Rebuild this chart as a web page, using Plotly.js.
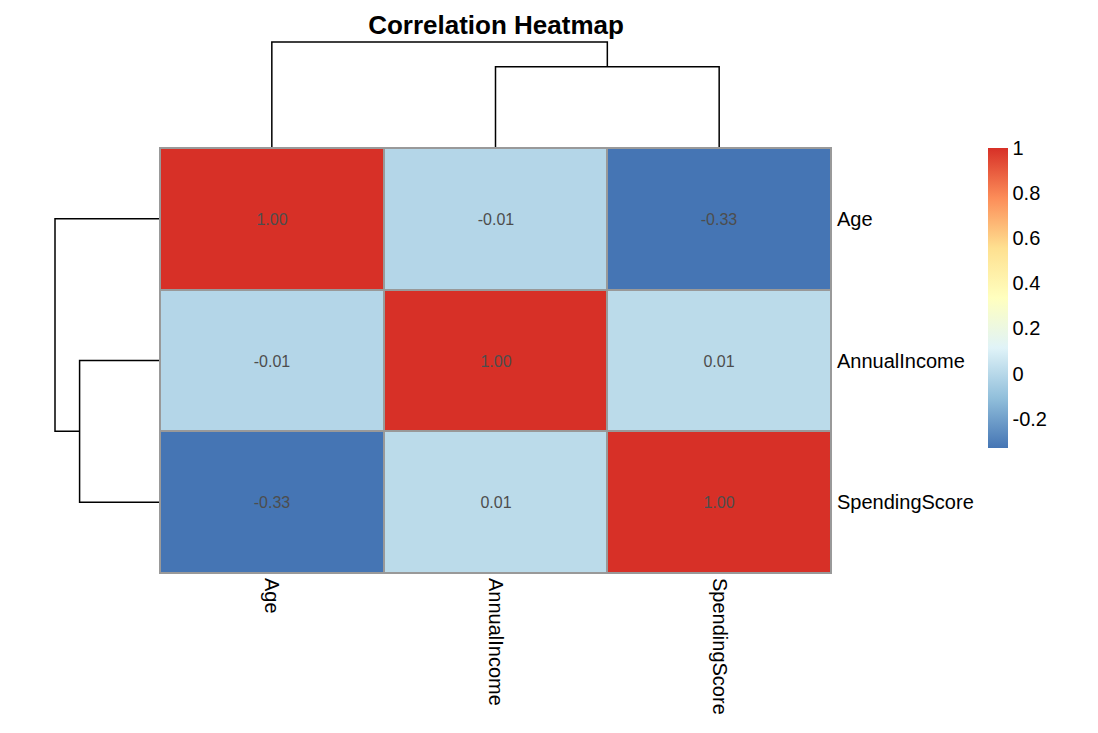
<!DOCTYPE html>
<html>
<head>
<meta charset="utf-8">
<script src="https://cdn.plot.ly/plotly-3.0.1.min.js"></script>
<style>html,body{margin:0;padding:0;background:#fff;}#chart{width:1098px;height:733px;}</style>
</head>
<body>
<div id="chart"></div>
<script>
// ---- data ----
const variables = ["Age", "AnnualIncome", "SpendingScore"];
const rowAge = [1.00, -0.01, -0.33];
const rowAnnualIncome = [-0.01, 1.00, 0.01];
const rowSpendingScore = [-0.33, 0.01, 1.00];
const colorbarTicks = [-0.2, 0, 0.2, 0.4, 0.6, 0.8, 1];
const colorbarTickText = ["-0.2", "0", "0.2", "0.4", "0.6", "0.8", "1"];
const paletteColors = ["#4575B4", "#91BFDB", "#E0F3F8", "#FFFFBF", "#FEE090", "#FC8D59", "#D73027"];

const matrix = [rowAge, rowAnnualIncome, rowSpendingScore];
const n = variables.length;

// ---- hierarchical clustering (euclidean, complete linkage) ----
function dist(a, b) {
  let s = 0;
  for (let k = 0; k < a.length; k++) s += (a[k] - b[k]) * (a[k] - b[k]);
  return Math.sqrt(s);
}
function hclust(vectors) {
  let clusters = vectors.map((v, i) => ({ leaves: [i], height: 0, children: null }));
  while (clusters.length > 1) {
    let best = null;
    for (let i = 0; i < clusters.length; i++) {
      for (let j = i + 1; j < clusters.length; j++) {
        let d = 0;
        clusters[i].leaves.forEach(a => clusters[j].leaves.forEach(b => {
          d = Math.max(d, dist(vectors[a], vectors[b]));
        }));
        if (!best || d < best.d) best = { i, j, d };
      }
    }
    const A = clusters[best.i], B = clusters[best.j];
    const first = Math.min(...A.leaves) <= Math.min(...B.leaves) ? A : B;
    const second = first === A ? B : A;
    const node = { leaves: first.leaves.concat(second.leaves), height: best.d, children: [first, second] };
    clusters = clusters.filter((c, k) => k !== best.i && k !== best.j);
    clusters.push(node);
  }
  return clusters[0];
}
const tree = hclust(matrix);
const order = tree.leaves;
const leafPos = {};
order.forEach((leaf, p) => { leafPos[leaf] = p; });

const segPos = [], segH = [];
function walk(node) {
  if (!node.children) return { pos: leafPos[node.leaves[0]], h: 0 };
  const a = walk(node.children[0]);
  const b = walk(node.children[1]);
  segPos.push(a.pos, a.pos, b.pos, b.pos, null);
  segH.push(a.h, node.height, node.height, b.h, null);
  return { pos: (a.pos + b.pos) / 2, h: node.height };
}
walk(tree);
const maxH = tree.height;

const orderedNames = order.map(i => variables[i]);
const z = order.map(r => order.map(c => matrix[r][c]));
const idx = order.map((_, p) => p);

const zmin = Math.min(...z.flat());
const zmax = Math.max(...z.flat());
const colorscale = paletteColors.map((c, i) => [i / (paletteColors.length - 1), c]);

const font = "Liberation Sans, Arial, Helvetica, sans-serif";

const traces = [
  {
    type: "heatmap",
    x: idx, y: idx, z: z,
    xaxis: "x", yaxis: "y",
    zmin: zmin, zmax: zmax,
    colorscale: colorscale,
    xgap: 2, ygap: 2,
    texttemplate: "%{z:.2f}",
    textfont: { family: font, size: 16, color: "#4D4D4D" },
    hoverinfo: "skip",
    colorbar: {
      x: 988 / 1098, xanchor: "left", xref: "paper",
      y: 1 - 298 / 733, yanchor: "middle", yref: "paper",
      len: 300, lenmode: "pixels",
      thickness: 20, thicknessmode: "pixels",
      xpad: 0, ypad: 0,
      outlinewidth: 0,
      ticks: "", ticklen: 0,
      tickvals: colorbarTicks, ticktext: colorbarTickText,
      tickfont: { family: font, size: 20, color: "#000" }
    }
  },
  {
    type: "scatter", mode: "lines",
    x: segPos, y: segH,
    xaxis: "x2", yaxis: "y2",
    line: { color: "#000", width: 1.5 },
    hoverinfo: "skip", showlegend: false
  },
  {
    type: "scatter", mode: "lines",
    x: segH, y: segPos,
    xaxis: "x3", yaxis: "y3",
    line: { color: "#000", width: 1.5 },
    hoverinfo: "skip", showlegend: false
  }
];

const hmX = [160 / 1098, 831 / 1098];
const hmY = [1 - 573 / 733, 1 - 148 / 733];
const pad = 1.02;

const layout = {
  width: 1098, height: 733,
  margin: { l: 0, r: 0, t: 0, b: 0 },
  paper_bgcolor: "#fff",
  plot_bgcolor: "rgba(0,0,0,0)",
  showlegend: false,
  font: { family: font, color: "#000" },
  title: {
    text: "<b>Correlation Heatmap</b>",
    font: { family: font, size: 26, color: "#000" },
    x: 496 / 1098, xanchor: "center", xref: "paper",
    y: 1 - 25 / 733, yanchor: "middle", yref: "paper"
  },
  shapes: [{
    type: "rect", xref: "x", yref: "y", layer: "below",
    x0: -0.5, x1: n - 0.5, y0: -0.5, y1: n - 0.5,
    fillcolor: "#999999", line: { width: 0 }
  }],
  xaxis: {
    domain: hmX, range: [-0.5, n - 0.5],
    tickvals: idx, ticktext: orderedNames, tickangle: 90,
    ticks: "", showgrid: false, zeroline: false,
    showline: true, linecolor: "#999999", linewidth: 1, mirror: true,
    tickfont: { family: font, size: 20, color: "#000" },
    ticklabelstandoff: 0, fixedrange: true
  },
  yaxis: {
    domain: hmY, range: [n - 0.5, -0.5],
    tickvals: idx, ticktext: orderedNames, side: "right",
    ticks: "", showgrid: false, zeroline: false,
    showline: true, linecolor: "#999999", linewidth: 1, mirror: true,
    tickfont: { family: font, size: 20, color: "#000" },
    ticklabelstandoff: 1, fixedrange: true
  },
  xaxis2: {
    domain: hmX, range: [-0.5, n - 0.5], anchor: "y2",
    visible: false, showgrid: false, zeroline: false, fixedrange: true
  },
  yaxis2: {
    domain: [1 - 147 / 733, 1 - (147 - 105 * pad) / 733],
    range: [0, maxH * pad], anchor: "x2",
    visible: false, showgrid: false, zeroline: false, fixedrange: true
  },
  xaxis3: {
    domain: [(159 - 104 * pad) / 1098, 159 / 1098],
    range: [maxH * pad, 0], anchor: "y3",
    visible: false, showgrid: false, zeroline: false, fixedrange: true
  },
  yaxis3: {
    domain: hmY, range: [n - 0.5, -0.5], anchor: "x3",
    visible: false, showgrid: false, zeroline: false, fixedrange: true
  }
};

Plotly.newPlot("chart", traces, layout, { staticPlot: true, displayModeBar: false });
</script>
</body>
</html>
